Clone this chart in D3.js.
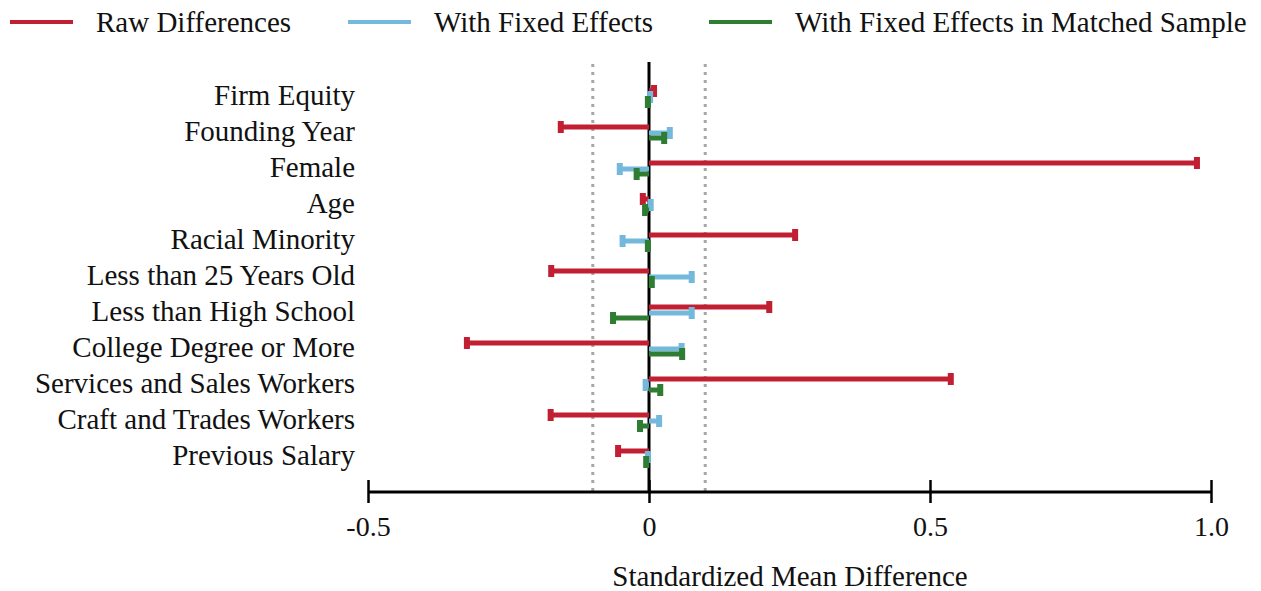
<!DOCTYPE html>
<html>
<head>
<meta charset="utf-8">
<script src="https://cdn.jsdelivr.net/npm/d3@7"></script>
<style>
  body { margin: 0; background: #fff; }
  text { font-family: "Liberation Serif", "Times New Roman", serif; fill: #111; }
</style>
</head>
<body>
<div id="chart"></div>
<script>
var categories = ["Firm Equity", "Founding Year", "Female", "Age", "Racial Minority",
  "Less than 25 Years Old", "Less than High School", "College Degree or More",
  "Services and Sales Workers", "Craft and Trades Workers", "Previous Salary"];
var rawDiff   = [0.009, -0.157, 0.975, -0.011, 0.260, -0.174, 0.214, -0.324, 0.537, -0.175, -0.055];
var fixedEff  = [0.002, 0.037, -0.052, 0.003, -0.047, 0.076, 0.076, 0.058, -0.006, 0.018, -0.002];
var matchedFE = [-0.002, 0.027, -0.022, -0.007, -0.002, 0.005, -0.064, 0.059, 0.020, -0.016, -0.005];
var seriesNames = ["Raw Differences", "With Fixed Effects", "With Fixed Effects in Matched Sample"];
var tickVals = [-0.5, 0, 0.5, 1.0];
var tickLabels = ["-0.5", "0", "0.5", "1.0"];

var width = 1261, height = 591;
var colors = ["#c21f32", "#74b9db", "#2e7d32"];
var offsets = [-4, 2, 7];

var svg = d3.select("#chart").append("svg")
  .attr("width", width).attr("height", height);

var x = d3.scaleLinear().domain([-0.5, 1.0]).range([368, 1211]);
var y = d3.scalePoint().domain(categories).range([95, 455]);

// threshold dotted lines
svg.selectAll("line.thr")
  .data([-0.1, 0.1])
  .enter().append("line")
  .attr("class", "thr")
  .attr("x1", d => x(d)).attr("x2", d => x(d))
  .attr("y1", 64).attr("y2", 492)
  .attr("stroke", "#a6a6a6")
  .attr("stroke-width", 3)
  .attr("stroke-dasharray", "3,5");

// bottom axis
var axis = d3.axisBottom(x)
  .tickValues(tickVals)
  .tickFormat((d, i) => tickLabels[i])
  .tickSize(11)
  .tickPadding(13);
var ax = svg.append("g").attr("transform", "translate(0,492)").call(axis);
ax.select(".domain").attr("stroke", "#000").attr("stroke-width", 3).attr("d", "M" + x(-0.5) + ",0H" + x(1.0));
ax.selectAll(".tick line").attr("stroke", "#000").attr("stroke-width", 2.5).attr("y1", -12);
ax.selectAll(".tick text")
  .style("font-family", "'Liberation Serif', serif")
  .style("font-size", "28px").attr("fill", "#111");

// zero line
svg.append("line")
  .attr("x1", x(0)).attr("x2", x(0))
  .attr("y1", 62).attr("y2", 493)
  .attr("stroke", "#000").attr("stroke-width", 3);

// category labels
svg.selectAll("text.cat")
  .data(categories)
  .enter().append("text")
  .attr("class", "cat")
  .attr("x", 355)
  .attr("y", d => y(d) + 10)
  .attr("text-anchor", "end")
  .style("font-size", "29px")
  .text(d => d);

// bars
var allSeries = [rawDiff, fixedEff, matchedFE];
allSeries.forEach(function(vals, s) {
  var g = svg.append("g");
  g.selectAll("line.bar")
    .data(vals)
    .enter().append("line")
    .attr("x1", x(0))
    .attr("x2", d => x(d))
    .attr("y1", (d, i) => y(categories[i]) + offsets[s])
    .attr("y2", (d, i) => y(categories[i]) + offsets[s])
    .attr("stroke", colors[s])
    .attr("stroke-width", 5);
  g.selectAll("rect.cap")
    .data(vals)
    .enter().append("rect")
    .attr("x", d => x(d) - 3)
    .attr("y", (d, i) => y(categories[i]) + offsets[s] - 6)
    .attr("width", 6)
    .attr("height", 12)
    .attr("fill", colors[s]);
});

// legend
var legendX = [10, 348, 709];
var leg = svg.selectAll("g.leg")
  .data(seriesNames)
  .enter().append("g")
  .attr("class", "leg")
  .attr("transform", (d, i) => "translate(" + legendX[i] + ",22)");
leg.append("line")
  .attr("x1", 0).attr("x2", 63)
  .attr("y1", 0).attr("y2", 0)
  .attr("stroke", (d, i) => colors[i])
  .attr("stroke-width", 4);
leg.append("text")
  .attr("x", 86)
  .attr("y", 10)
  .style("font-size", "29px")
  .text(d => d);

// axis title
svg.append("text")
  .attr("x", 790)
  .attr("y", 586)
  .attr("text-anchor", "middle")
  .style("font-size", "29px")
  .text("Standardized Mean Difference");
</script>
</body>
</html>
